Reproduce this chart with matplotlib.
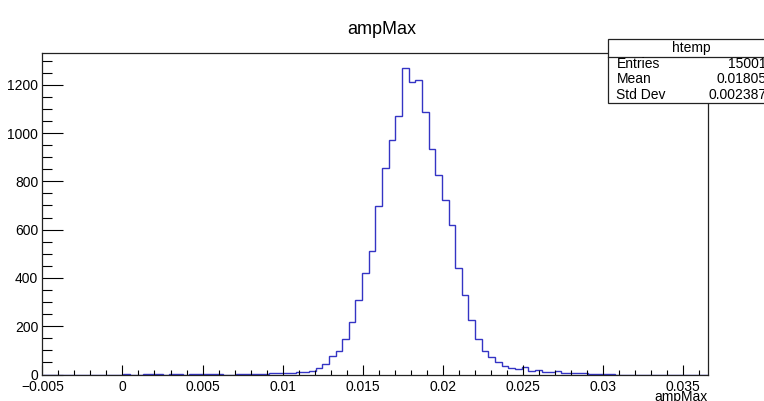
import numpy as np
import matplotlib
matplotlib.use("Agg")
import matplotlib.pyplot as plt
from matplotlib.patches import Rectangle
from matplotlib.lines import Line2D

plt.rcParams['font.family'] = ['Liberation Sans', 'DejaVu Sans']

# Histogram of ampMax: 100 bins over [x_min, x_max]
x_min = -0.004948
x_max = 0.03652
n_bins = 100
counts = [
    0, 0, 0, 0, 0, 0, 0, 0, 0, 0,
    0, 0, 1, 0, 0, 1, 1, 1, 0, 2,
    1, 0, 1, 2, 1, 2, 1, 0, 0, 2,
    2, 3, 2, 3, 5, 6, 7, 8, 10, 11,
    14, 27, 45, 77, 96, 145, 218, 310, 421, 510,
    699, 855, 970, 1069, 1268, 1210, 1221, 1089, 934, 828,
    724, 618, 442, 331, 225, 148, 97, 73, 53, 37,
    26, 21, 30, 14, 17, 12, 10, 14, 7, 6,
    7, 5, 4, 3, 2, 3, 0, 0, 0, 0,
    0, 0, 0, 0, 0, 0, 0, 0, 0, 0,
]

x_ticks = [-0.005, 0, 0.005, 0.01, 0.015, 0.02, 0.025, 0.03, 0.035]
x_tick_labels = ["\u22120.005", "0", "0.005", "0.01", "0.015", "0.02", "0.025", "0.03", "0.035"]
y_ticks = [0, 200, 400, 600, 800, 1000, 1200]
y_tick_labels = ["0", "200", "400", "600", "800", "1000", "1200"]

stats_name = "htemp"
stats_rows = [("Entries", "15001"), ("Mean", "0.01805"), ("Std Dev", "0.002387")]

W, H = 764, 401
fig = plt.figure(figsize=(W / 100, H / 100), dpi=100)

# frame geometry in pixels
left, right, top, bottom = 42.3, 707.7, 53.0, 374.5
ax = fig.add_axes([left / W, 1 - bottom / H, (right - left) / W, (bottom - top) / H])

edges = np.linspace(x_min, x_max, n_bins + 1)
ax.stairs(counts, edges, color="#3434c4", lw=1.0)

ax.set_xlim(x_min, x_max)
ax.set_ylim(0, 1.05 * max(counts))

ax.set_xticks(x_ticks)
ax.set_xticklabels(x_tick_labels)
ax.set_xticks(np.arange(-0.004, 0.0365, 0.001), minor=True)
ax.set_yticks(y_ticks)
ax.set_yticklabels(y_tick_labels)
ax.set_yticks(np.arange(0, 1331, 50), minor=True)

ax.tick_params(axis="x", which="major", direction="in", length=7.2, width=0.8,
               pad=4, labelsize=10, colors="black")
ax.tick_params(axis="x", which="minor", direction="in", length=3.6, width=0.8)
ax.tick_params(axis="y", which="major", direction="in", length=15, width=0.8,
               pad=3, labelsize=10)
ax.tick_params(axis="y", which="minor", direction="in", length=7.5, width=0.8)
for s in ax.spines.values():
    s.set_linewidth(0.9)
    s.set_color("#222222")

# title and axis title
fig.text(0.5, 1 - 30 / H, "ampMax", ha="center", va="center", fontsize=13)
fig.text(right / W, 1 - 400.5 / H, "ampMax", ha="right", va="baseline", fontsize=10)

# statistics box
bx0, by0, bx1, by1, bsep = 608.3, 39.3, 770.0, 102.7, 56.7
fig.patches.append(Rectangle((bx0 / W, 1 - by1 / H), (bx1 - bx0) / W, (by1 - by0) / H,
                             transform=fig.transFigure, facecolor="white",
                             edgecolor="#222222", lw=0.9, zorder=5))
fig.lines.append(Line2D([bx0 / W, bx1 / W], [1 - bsep / H, 1 - bsep / H],
                        transform=fig.transFigure, color="#222222", lw=0.9, zorder=6))
fig.text((bx0 + 83) / W, 1 - 48 / H, stats_name, ha="center", va="center",
         fontsize=10, zorder=7)
for i, (name, val) in enumerate(stats_rows):
    yy = 1 - (63.5 + 15.8 * i) / H
    fig.text(616.5 / W, yy, name, ha="left", va="center", fontsize=10, zorder=7)
    fig.text(767 / W, yy, val, ha="right", va="center", fontsize=10, zorder=7)

fig.savefig("out.png", dpi=100)
